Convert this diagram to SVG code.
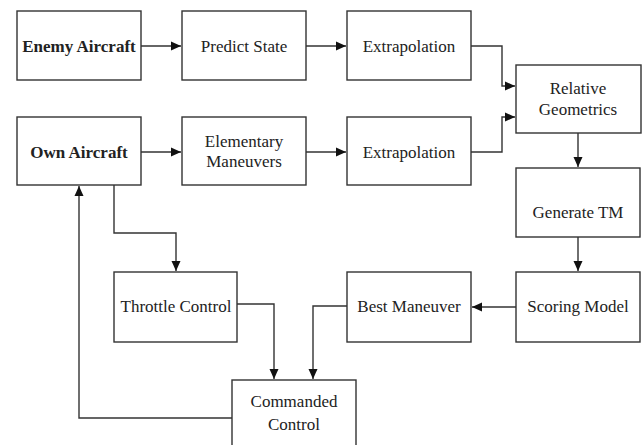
<svg xmlns="http://www.w3.org/2000/svg" width="643" height="445" viewBox="0 0 643 445">
<style>
.box{fill:#fff;stroke:#333;stroke-width:1.4}
.t{font-size:17px;fill:#222;text-anchor:middle}
.b{font-weight:bold}
.con{fill:none;stroke:#333;stroke-width:1.4}
</style>
<defs>
<marker id="ah" markerUnits="userSpaceOnUse" markerWidth="10" markerHeight="10" viewBox="0 0 10 10" refX="10" refY="5" orient="auto">
<path d="M0,0.5 L10,5 L0,9.5 z" fill="#111"/>
</marker>
</defs>
<rect width="643" height="445" fill="#fff"/>
<g id="connectors">
<path class="con" d="M141,46 H181" marker-end="url(#ah)"/>
<path class="con" d="M306,46 H346" marker-end="url(#ah)"/>
<path class="con" d="M141,152 H181" marker-end="url(#ah)"/>
<path class="con" d="M306,152 H346" marker-end="url(#ah)"/>
<path class="con" d="M471,46 H502 V86 H515" marker-end="url(#ah)"/>
<path class="con" d="M471,152 H502 V117 H515" marker-end="url(#ah)"/>
<path class="con" d="M578,133 V167" marker-end="url(#ah)"/>
<path class="con" d="M578,237 V271" marker-end="url(#ah)"/>
<path class="con" d="M516,307 H472" marker-end="url(#ah)"/>
<path class="con" d="M347,306 H313 V379" marker-end="url(#ah)"/>
<path class="con" d="M237,304 H274 V379" marker-end="url(#ah)"/>
<path class="con" d="M114,185 V233 H176 V271" marker-end="url(#ah)"/>
<path class="con" d="M232,418 H79 V186" marker-end="url(#ah)"/>
</g>
<g id="enemy"><rect class="box" x="17" y="11" width="124" height="69"/><text class="t b" font-family="Liberation Serif" x="79" y="52">Enemy Aircraft</text></g>
<g id="predict"><rect class="box" x="182" y="11" width="124" height="69"/><text class="t" font-family="Liberation Serif" x="244" y="52">Predict State</text></g>
<g id="extrap1"><rect class="box" x="347" y="11" width="124" height="69"/><text class="t" font-family="Liberation Serif" x="409" y="52">Extrapolation</text></g>
<g id="own"><rect class="box" x="17" y="117" width="124" height="68"/><text class="t b" font-family="Liberation Serif" x="79" y="158">Own Aircraft</text></g>
<g id="elementary"><rect class="box" x="182" y="117" width="124" height="68"/><text class="t" font-family="Liberation Serif" x="244" y="147">Elementary</text><text class="t" font-family="Liberation Serif" x="244" y="167">Maneuvers</text></g>
<g id="extrap2"><rect class="box" x="347" y="117" width="124" height="68"/><text class="t" font-family="Liberation Serif" x="409" y="158">Extrapolation</text></g>
<g id="relative"><rect class="box" x="516" y="65" width="125" height="68"/><text class="t" font-family="Liberation Serif" x="578" y="94">Relative</text><text class="t" font-family="Liberation Serif" x="578" y="115">Geometrics</text></g>
<g id="generate"><rect class="box" x="516" y="168" width="124" height="69"/><text class="t" font-family="Liberation Serif" x="578" y="218">Generate TM</text></g>
<g id="scoring"><rect class="box" x="516" y="272" width="124" height="70"/><text class="t" font-family="Liberation Serif" x="578" y="312">Scoring Model</text></g>
<g id="best"><rect class="box" x="347" y="272" width="124" height="70"/><text class="t" font-family="Liberation Serif" x="409" y="312">Best Maneuver</text></g>
<g id="throttle"><rect class="box" x="114" y="272" width="123" height="70"/><text class="t" font-family="Liberation Serif" x="176" y="312">Throttle Control</text></g>
<g id="commanded"><rect class="box" x="232" y="380" width="124" height="72"/><text class="t" font-family="Liberation Serif" x="294" y="407">Commanded</text><text class="t" font-family="Liberation Serif" x="294" y="430">Control</text></g>
</svg>
